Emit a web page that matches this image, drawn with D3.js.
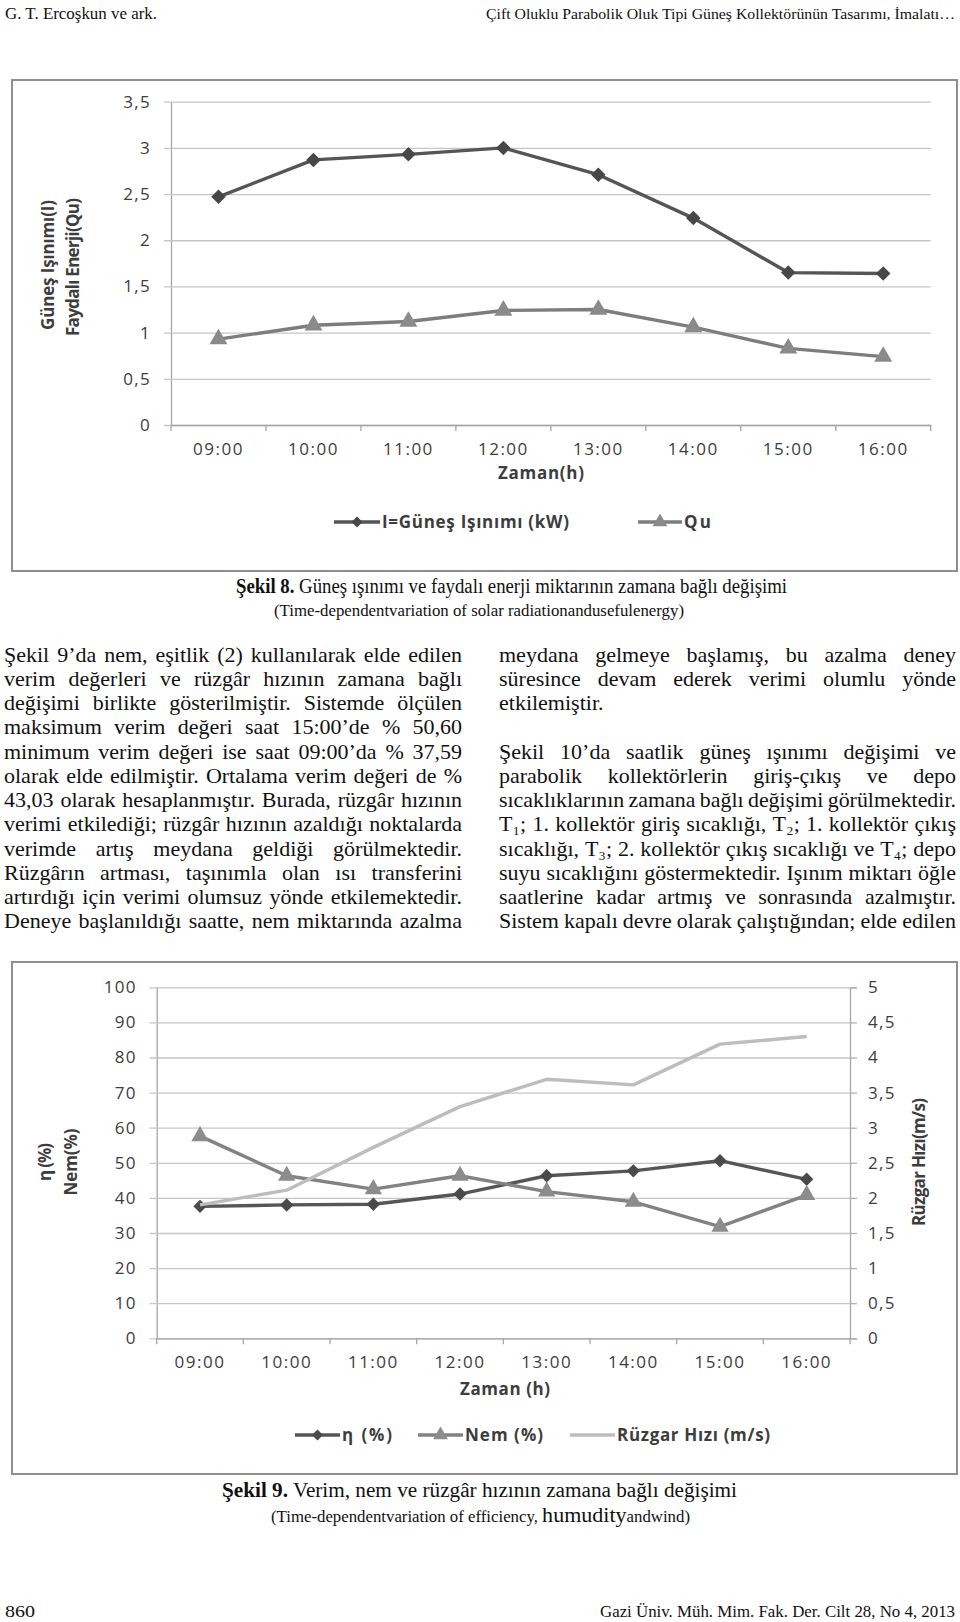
<!DOCTYPE html>
<html><head><meta charset="utf-8">
<script src="https://cdn.jsdelivr.net/npm/d3@7"></script>
<style>
body{margin:0;background:#fff;}
svg{display:block;}
.chart text{font-family:"Open Sans",sans-serif;fill:#3d3d3d;}
.serif{font-family:"Liberation Serif","Times New Roman",serif;fill:#111;}
</style></head><body>
<svg id="page" width="960" height="1622"></svg>
<script>
// ---------- DATA ----------
const hours = ["09:00","10:00","11:00","12:00","13:00","14:00","15:00","16:00"];
// Şekil 8
const solarI   = [2.47, 2.87, 2.93, 3.00, 2.71, 2.24, 1.65, 1.64];
const usefulQu = [0.93, 1.08, 1.12, 1.24, 1.25, 1.06, 0.83, 0.74];
const yTicks1  = [0, 0.5, 1, 1.5, 2, 2.5, 3, 3.5];
// Şekil 9
const efficiency = [37.59, 38.0, 38.2, 41.1, 46.3, 47.7, 50.6, 45.3];
const humidity   = [57.6, 46.3, 42.5, 46.3, 41.8, 38.9, 31.8, 40.8];
const windSpeed  = [1.90, 2.11, 2.72, 3.30, 3.69, 3.61, 4.19, 4.30];
const yTicks2Left  = [0,10,20,30,40,50,60,70,80,90,100];
const yTicks2Right = [0,0.5,1,1.5,2,2.5,3,3.5,4,4.5,5];

const leftColumn = [
 "Şekil 9’da nem, eşitlik (2) kullanılarak elde edilen",
 "verim değerleri ve rüzgâr hızının zamana bağlı",
 "değişimi birlikte gösterilmiştir. Sistemde ölçülen",
 "maksimum verim değeri saat 15:00’de % 50,60",
 "minimum verim değeri ise saat 09:00’da % 37,59",
 "olarak elde edilmiştir. Ortalama verim değeri de %",
 "43,03 olarak hesaplanmıştır. Burada, rüzgâr hızının",
 "verimi etkilediği; rüzgâr hızının azaldığı noktalarda",
 "verimde artış meydana geldiği görülmektedir.",
 "Rüzgârın artması, taşınımla olan ısı transferini",
 "artırdığı için verimi olumsuz yönde etkilemektedir.",
 "Deneye başlanıldığı saatte, nem miktarında azalma"
];
const rightColumn = [
 "meydana gelmeye başlamış, bu azalma deney",
 "süresince devam ederek verimi olumlu yönde",
 "etkilemiştir.",
 "",
 "Şekil 10’da saatlik güneş ışınımı değişimi ve",
 "parabolik kollektörlerin giriş-çıkış ve depo",
 "sıcaklıklarının zamana bağlı değişimi görülmektedir.",
 "T₁; 1. kollektör giriş sıcaklığı, T₂; 1. kollektör çıkış",
 "sıcaklığı, T₃; 2. kollektör çıkış sıcaklığı ve T₄; depo",
 "suyu sıcaklığını göstermektedir. Işınım miktarı öğle",
 "saatlerine kadar artmış ve sonrasında azalmıştır.",
 "Sistem kapalı devre olarak çalıştığından; elde edilen"
];
const rightNoJustify = [2];

// ---------- PAGE ----------
const svg = d3.select("#page");
svg.append("rect").attr("width",960).attr("height",1622).attr("fill","#fff");

function fitText(g, x, y, w, size, parts, anchor) {
  const t = g.append("text").attr("class","serif").attr("x",x).attr("y",y)
    .attr("font-size",size).attr("text-anchor",anchor||"start")
    .attr("textLength",w).attr("lengthAdjust","spacingAndGlyphs");
  parts.forEach(p => {
    const ts = t.append("tspan").text(p.t);
    if (p.b) ts.attr("font-weight","bold");
    if (p.s) ts.attr("font-size",p.s);
  });
  return t;
}
const headerG = svg.append("g");
fitText(headerG, 5, 19, 152, 17, [{t:"G. T. Ercoşkun ve ark."}]);
fitText(headerG, 955, 19, 469, 15.5, [{t:"Çift Oluklu Parabolik Oluk Tipi Güneş Kollektörünün Tasarımı, İmalatı…"}], "end");

// ---------- CHART FUNCTION ----------
function drawChart(cfg) {
  const g = svg.append("g").attr("class","chart");
  g.append("rect").attr("x",cfg.frame[0]).attr("y",cfg.frame[1]).attr("width",cfg.frame[2]).attr("height",cfg.frame[3])
    .attr("fill","#fff").attr("stroke","#8f8f8f").attr("stroke-width",2);
  const x = d3.scaleBand().domain(hours).range([cfg.x0, cfg.x1]);
  const y = d3.scaleLinear().domain([0, cfg.yMax]).range([cfg.yB, cfg.yT]);
  const plotW = cfg.x1 - cfg.x0;
  const fmt = d => String(d).replace(".", ",");
  const ga = g.append("g").attr("transform",`translate(${cfg.x0},0)`)
    .call(d3.axisLeft(y).tickValues(cfg.ticks).tickFormat(fmt).tickSizeOuter(0));
  ga.select(".domain").attr("stroke","#a6a6a6").attr("stroke-width",1.3);
  ga.selectAll(".tick line").attr("x1",-7).attr("x2",plotW).attr("stroke","#c6c6c6").attr("stroke-width",1.3);
  ga.selectAll(".tick text").attr("x",-20).attr("font-size",17).attr("letter-spacing",1.3).attr("fill","#3d3d3d");
  let yR = null;
  if (cfg.yRMax) {
    yR = d3.scaleLinear().domain([0, cfg.yRMax]).range([cfg.yB, cfg.yT]);
    const gr = g.append("g").attr("transform",`translate(${cfg.x1},0)`)
      .call(d3.axisRight(yR).tickValues(cfg.ticksR).tickFormat(fmt).tickSizeOuter(0).tickSize(7));
    gr.select(".domain").attr("stroke","#a6a6a6").attr("stroke-width",1.3);
    gr.selectAll(".tick line").attr("stroke","#b0b0b0").attr("stroke-width",1.3);
    gr.selectAll(".tick text").attr("x",18).attr("font-size",17).attr("letter-spacing",1.3).attr("fill","#3d3d3d");
  }
  const gb = g.append("g").attr("transform",`translate(0,${cfg.yB})`)
    .call(d3.axisBottom(x).tickSize(0).tickPadding(18).tickSizeOuter(0));
  gb.select(".domain").attr("stroke","#a6a6a6").attr("stroke-width",1.3);
  gb.selectAll(".tick text").attr("font-size",17).attr("letter-spacing",1.5).attr("fill","#3d3d3d");
  g.append("g").selectAll("line").data(hours.map(h => x(h)).concat([cfg.x1])).join("line")
    .attr("x1",d=>d).attr("x2",d=>d).attr("y1",cfg.yB).attr("y2",cfg.yB+6)
    .attr("stroke","#a6a6a6").attr("stroke-width",1.3);
  g.append("text").attr("x",cfg.xTitle[1]).attr("y",cfg.xTitle[2]).attr("text-anchor","middle")
    .attr("font-size",17).attr("font-weight","bold").attr("textLength",cfg.xTitle[3]).text(cfg.xTitle[0]);
  cfg.yTitles.forEach(tt => {
    g.append("text").attr("transform",`translate(${tt[1]},${tt[2]}) rotate(-90)`).attr("text-anchor","middle")
      .attr("dy","0.35em").attr("font-size",17).attr("font-weight","bold").attr("textLength",tt[3]).text(tt[0]);
  });
  const cx = h => x(h) + x.bandwidth()/2;
  const diamond = d3.symbol(d3.symbolSquare, cfg.dSize);
  const tri = d3.symbol(d3.symbolTriangle, cfg.tSize);
  cfg.series.forEach(s => {
    const sc = s.right ? yR : y;
    const line = d3.line().x((d,i)=>cx(hours[i])).y(d=>sc(d));
    g.append("path").datum(s.values).attr("d",line).attr("fill","none")
      .attr("stroke",s.color).attr("stroke-width",3.4).attr("stroke-linejoin","round");
    if (s.marker) {
      g.append("g").selectAll("path").data(s.values).join("path")
        .attr("d", s.marker==="diamond" ? diamond() : tri())
        .attr("transform",(d,i)=>`translate(${cx(hours[i])},${sc(d)})` + (s.marker==="diamond"?" rotate(45)":""))
        .attr("fill",s.mcolor);
    }
  });
  cfg.legend.forEach(L => {
    const s = cfg.series[L.i];
    g.append("line").attr("x1",L.x1).attr("x2",L.x2).attr("y1",cfg.legendY).attr("y2",cfg.legendY)
      .attr("stroke",s.color).attr("stroke-width",3.4);
    if (s.marker) {
      g.append("path").attr("d", s.marker==="diamond" ? d3.symbol(d3.symbolSquare,60)() : d3.symbol(d3.symbolTriangle,95)())
        .attr("transform",`translate(${(L.x1+L.x2)/2},${cfg.legendY})`+(s.marker==="diamond"?" rotate(45)":""))
        .attr("fill",s.mcolor);
    }
    g.append("text").attr("x",L.x2+2).attr("y",cfg.legendY).attr("dy","0.35em").attr("font-size",17)
      .attr("font-weight","bold").attr("textLength",L.w).text(s.name);
  });
}

drawChart({
  frame:[12,80,945,491], x0:171, x1:930.7, yT:101.7, yB:425, yMax:3.5, ticks:yTicks1,
  dSize:105, tSize:140,
  xTitle:["Zaman(h)",541,479,86],
  yTitles:[["Güneş Işınımı(I)",48,265,130],["Faydalı Enerji(Qu)",73,267,138]],
  series:[
    {name:"I=Güneş Işınımı (kW)", values:solarI, color:"#555555", mcolor:"#474747", marker:"diamond"},
    {name:"Qu", values:usefulQu, color:"#7d7d7d", mcolor:"#8a8a8a", marker:"triangle"}
  ],
  legendY:522,
  legend:[{i:0,x1:334,x2:380,w:187},{i:1,x1:638,x2:682,w:27}]
});

drawChart({
  frame:[12,962,945,512], x0:156.7, x1:850, yT:987.3, yB:1338.3, yMax:100, ticks:yTicks2Left,
  yRMax:5, ticksR:yTicks2Right, dSize:90, tSize:130,
  xTitle:["Zaman (h)",505,1395,90],
  yTitles:[["η (%)",45,1162,38],["Nem(%)",71,1162,67],["Rüzgar Hızı(m/s)",919,1162,128]],
  series:[
    {name:"η  (%)", values:efficiency, color:"#565656", mcolor:"#4a4a4a", marker:"diamond"},
    {name:"Nem (%)", values:humidity, color:"#828282", mcolor:"#8c8c8c", marker:"triangle"},
    {name:"Rüzgar Hızı (m/s)", values:windSpeed, color:"#bdbdbd", right:true}
  ],
  legendY:1435,
  legend:[{i:0,x1:295,x2:340,w:50},{i:1,x1:418,x2:463,w:78},{i:2,x1:570,x2:615,w:153}]
});

const cap = svg.append("g");
fitText(cap, 236, 593, 551, 20, [{t:"Şekil 8.",b:true},{t:" Güneş ışınımı ve faydalı enerji miktarının zamana bağlı değişimi"}]);
fitText(cap, 274, 616, 410, 17, [{t:"(Time-dependentvariation of solar radiationandusefulenergy)"}]);
fitText(cap, 222, 1497, 515, 20, [{t:"Şekil 9.",b:true},{t:" Verim, nem ve rüzgâr hızının zamana bağlı değişimi"}]);
fitText(cap, 271, 1522, 419, 16, [{t:"(Time-dependentvariation of efficiency, "},{t:"humudity",s:21},{t:"andwind)"}]);
fitText(cap, 5, 1617, 30, 17, [{t:"860"}]);
fitText(cap, 955, 1617, 355, 17, [{t:"Gazi Üniv. Müh. Mim. Fak. Der. Cilt 28, No 4, 2013"}], "end");

// ---------- BODY TEXT (justified) ----------
const body = svg.append("g");
const FS = 22;
function drawColumn(lines, x0, W, baseY, lh, noJust) {
  lines.forEach((ln, i) => {
    if (!ln) return;
    const yb = baseY + i*lh;
    const t = body.append("text").attr("class","serif").attr("font-size",FS);
    const words = ln.split(" ");
    const spans = words.map((w,k) => t.append("tspan").attr("y",0).text(w));
    const widths = spans.map(s => s.node().getComputedTextLength());
    const sum = d3.sum(widths);
    const n = words.length;
    const minGap = 0.2*FS, space = 0.25*FS;
    let sc = 1, gap;
    if (noJust.includes(i)) gap = space;
    else {
      gap = (W - sum)/(n-1);
      if (gap < minGap) { sc = W/(sum + (n-1)*minGap); gap = minGap; }
    }
    let cx = 0;
    spans.forEach((s, k) => { s.attr("x", cx); cx += widths[k] + gap; });
    t.attr("transform",`translate(${x0},${yb}) scale(${sc},1)`);
  });
}
drawColumn(leftColumn, 4, 458, 661.5, 24.25, []);
drawColumn(rightColumn, 499, 457, 661.5, 24.25, rightNoJustify);
</script>
</body></html>
